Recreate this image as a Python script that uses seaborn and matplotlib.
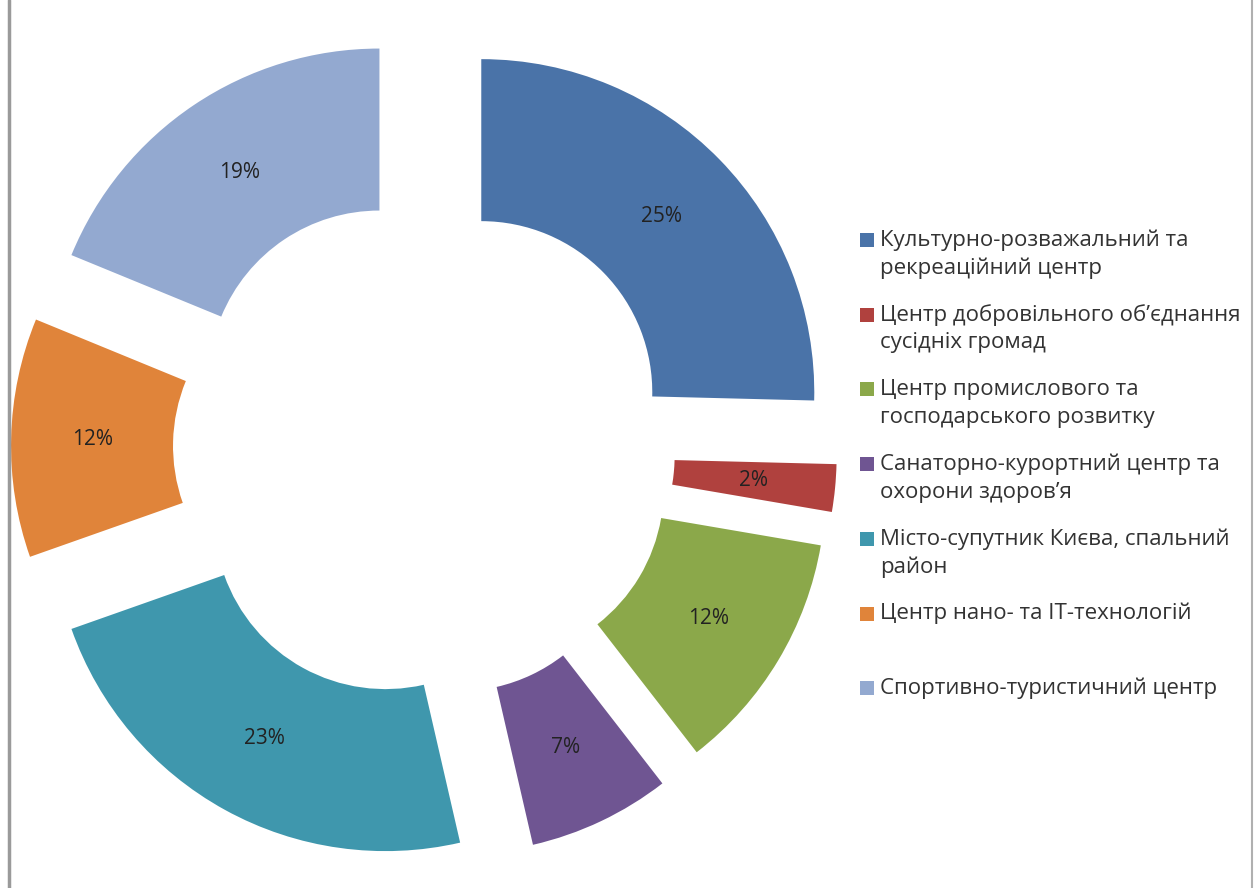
import matplotlib
matplotlib.use("Agg")
import matplotlib.pyplot as plt
import seaborn as sns
from matplotlib.patches import Rectangle
from matplotlib.lines import Line2D

sns.set_theme(style="white")
plt.rcParams["font.family"] = ["Open Sans", "Noto Sans", "DejaVu Sans"]

CATEGORIES = [
    "Культурно-розважальний та\nрекреаційний центр",
    "Центр добровільного об’єднання\nсусідніх громад",
    "Центр промислового та\nгосподарського розвитку",
    "Санаторно-курортний центр та\nохорони здоров’я",
    "Місто-супутник Києва, спальний\nрайон",
    "Центр нано- та ІТ-технологій",
    "Спортивно-туристичний центр",
]
# shares (labels show the rounded values)
SHARES = [25.4, 2.3, 11.8, 6.9, 23.2, 11.6, 18.8]
COLORS = ["#4a73a8", "#b0413e", "#8ba84a", "#6f5592", "#3f97ad", "#e0843a", "#93a9d0"]

W, H = 1258, 888
fig = plt.figure(figsize=(W / 100, H / 100), dpi=100)
ax = fig.add_axes([0, 0, 1, 1])

palette = sns.color_palette(COLORS)
wedges, texts, autotexts = ax.pie(
    SHARES,
    colors=palette,
    explode=[80] * len(SHARES),
    startangle=90,
    counterclock=False,
    radius=333,
    center=(424, H - 448),
    wedgeprops=dict(width=162, edgecolor="none"),
    autopct="%.0f%%",
    pctdistance=0.755,
    textprops=dict(fontsize=15, color="#222222"),
)
ax.set_xlim(0, W)
ax.set_ylim(0, H)
ax.set_aspect("equal")
ax.axis("off")

# legend drawn by hand so the square sits on the first text line
y0, step, line_gap = 240, 74.7, 28
for i, (label, color) in enumerate(zip(CATEGORIES, palette)):
    y = y0 + i * step
    ax.add_patch(Rectangle((860, H - y - 7), 14, 14, facecolor=color, edgecolor="none"))
    for k, line in enumerate(label.split("\n")):
        ax.text(880, H - (y + k * line_gap), line, fontsize=16, color="#333333",
                va="center", ha="left")

# page edges of the scanned chart
fig.add_artist(Line2D([8.5 / W, 8.5 / W], [0, 1], color="#9a9a9a", lw=2.5))
fig.add_artist(Line2D([1252 / W, 1252 / W], [0, 1], color="#b0b0b0", lw=1.5))

fig.savefig("out.png", dpi=100, facecolor="white")
